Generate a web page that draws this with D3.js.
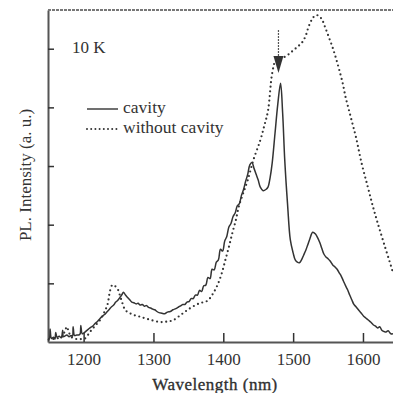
<!DOCTYPE html>
<html><head><meta charset="utf-8">
<script src="https://cdn.jsdelivr.net/npm/d3@7"></script>
<style>body{margin:0;background:#fff}svg{display:block}text{font-family:"Liberation Serif","DejaVu Serif",serif;fill:#333}</style>
</head><body>
<script>
const xTicks = [1200, 1300, 1400, 1500, 1600];
const yTicks = [1, 2, 3, 4, 5];
const seriesNames = ["cavity", "without cavity"];
const cavityWl = [1149,1151,1152,1154,1157,1159,1160,1162,1165,1168,1170,1171,1173,1176,1179,1182,1184,1185,1187,1190,1193,1195,1196,1198,1200,1204,1207,1210,1213,1216,1219,1222,1225,1228,1231,1234,1237,1240,1243,1246,1249,1252,1255,1257,1260,1263,1266,1269,1272,1275,1278,1281,1284,1287,1290,1293,1296,1299,1302,1305,1308,1312,1316,1320,1324,1328,1332,1335,1338,1342,1345,1348,1351,1354,1357,1360,1363,1366,1369,1372,1375,1378,1381,1384,1387,1390,1393,1396,1399,1402,1405,1408,1411,1414,1417,1420,1423,1426,1429,1432,1435,1438,1441,1444,1447,1450,1453,1457,1461,1464,1467,1470,1474,1478,1482,1485,1488,1492,1496,1500,1503,1506,1509,1512,1515,1518,1521,1524,1528,1532,1535,1538,1541,1544,1547,1550,1553,1557,1560,1563,1566,1569,1572,1575,1578,1581,1584,1587,1590,1594,1597,1601,1604,1608,1611,1615,1618,1621,1624,1627,1630,1633,1636,1640,1643];
const cavityVal = [0.05,0.06,0.22,0.06,0.08,0.05,0.16,0.08,0.10,0.07,0.20,0.09,0.10,0.12,0.09,0.11,0.10,0.26,0.11,0.12,0.12,0.14,0.28,0.14,0.15,0.19,0.22,0.25,0.27,0.31,0.34,0.38,0.42,0.45,0.48,0.52,0.56,0.60,0.63,0.68,0.71,0.76,0.81,0.85,0.80,0.76,0.72,0.68,0.67,0.65,0.66,0.63,0.64,0.61,0.62,0.59,0.58,0.56,0.55,0.52,0.50,0.49,0.48,0.51,0.52,0.55,0.57,0.59,0.61,0.64,0.64,0.68,0.69,0.74,0.74,0.80,0.80,0.88,0.86,0.96,0.97,1.10,1.08,1.24,1.23,1.36,1.40,1.58,1.55,1.72,1.80,1.96,2.02,2.14,2.20,2.32,2.36,2.50,2.60,2.74,2.86,3.02,3.06,2.96,2.86,2.76,2.64,2.58,2.60,2.64,2.80,3.05,3.55,4.05,4.41,3.90,3.10,2.35,1.74,1.52,1.40,1.36,1.35,1.40,1.48,1.56,1.66,1.76,1.87,1.84,1.78,1.70,1.60,1.50,1.45,1.42,1.38,1.31,1.28,1.24,1.18,1.12,1.04,0.96,0.89,0.80,0.72,0.64,0.60,0.54,0.50,0.44,0.41,0.37,0.34,0.29,0.27,0.24,0.26,0.20,0.18,0.17,0.19,0.14,0.14];
const noCavWl = [1150,1160,1168,1173,1176,1179,1183,1190,1196,1202,1209,1216,1224,1230,1234,1238,1241,1244,1248,1254,1260,1270,1281,1295,1310,1320,1328,1340,1353,1366,1377,1385,1392,1398,1403,1408,1413,1418,1422,1428,1435,1443,1453,1459,1464,1470,1475,1480,1486,1493,1500,1507,1513,1518,1522,1527,1532,1537,1542,1546,1551,1556,1561,1566,1571,1575,1580,1585,1590,1598,1607,1614,1621,1630,1640,1643];
const noCavVal = [0.04,0.06,0.08,0.18,0.26,0.16,0.08,0.05,0.05,0.06,0.17,0.27,0.38,0.52,0.63,0.88,0.97,0.96,0.92,0.72,0.54,0.47,0.43,0.38,0.34,0.35,0.37,0.47,0.58,0.66,0.70,0.82,0.98,1.18,1.40,1.62,1.86,2.08,2.30,2.52,2.76,3.10,3.44,3.70,3.94,4.58,4.80,4.83,4.85,4.90,4.97,5.04,5.11,5.22,5.37,5.50,5.57,5.56,5.48,5.36,5.20,5.04,4.85,4.64,4.41,4.18,3.95,3.72,3.49,3.05,2.64,2.32,2.03,1.68,1.30,1.18];
const arrowWl = 1479;
const labels = {x: "Wavelength (nm)", y: "PL. Intensity (a. u.)", temp: "10 K"};

const W = 393, H = 393;
const m = {l: 48, t: 10, r: 0, b: 51};
const svg = d3.select("body").append("svg").attr("width", W).attr("height", H);
const x = d3.scaleLinear().domain([1149, 1643]).range([m.l, W - m.r]);
const y = d3.scaleLinear().domain([0, 5.66]).range([H - m.b, m.t]);
const ink = "#333";

// frame
const xAxis = svg.append("g").attr("transform", `translate(0,${H - m.b})`)
  .call(d3.axisBottom(x).tickValues(xTicks).tickSizeInner(-9).tickSizeOuter(0).tickPadding(18).tickFormat(d3.format("d")));
xAxis.select(".domain").attr("stroke", "#555").attr("stroke-width", 2);
xAxis.selectAll(".tick line").attr("stroke", ink).attr("stroke-width", 1.5);
xAxis.selectAll(".tick text").attr("font-size", 17).attr("fill", ink).attr("dy", "0.3em");

const yAxis = svg.append("g").attr("transform", `translate(${m.l},0)`)
  .call(d3.axisLeft(y).tickValues(yTicks).tickSizeInner(-6).tickSizeOuter(0).tickFormat(""));
yAxis.select(".domain").attr("stroke", "#555").attr("stroke-width", 2);
yAxis.selectAll(".tick line").attr("stroke", ink).attr("stroke-width", 1.5);

svg.append("line").attr("x1", m.l).attr("x2", W).attr("y1", m.t).attr("y2", m.t)
  .attr("stroke", "#777").attr("stroke-width", 2).attr("stroke-dasharray", "3 1");

// series
const line = d3.line().x(d => x(d[0])).y(d => y(d[1])).curve(d3.curveCatmullRom.alpha(0.5));
svg.append("path").datum(noCavWl.map((w, i) => [w, noCavVal[i]]))
  .attr("d", line).attr("fill", "none").attr("stroke", ink).attr("stroke-width", 2.2)
  .attr("stroke-linecap", "round").attr("stroke-dasharray", "0 4.6");
svg.append("path").datum(cavityWl.map((w, i) => [w, cavityVal[i]]))
  .attr("d", line).attr("fill", "none").attr("stroke", ink).attr("stroke-width", 1.5)
  .attr("stroke-linejoin", "round");

// arrow
const ax = x(arrowWl);
svg.append("line").attr("x1", ax).attr("x2", ax).attr("y1", 30).attr("y2", 62)
  .attr("stroke", "#555").attr("stroke-width", 1.2).attr("stroke-dasharray", "2 1");
svg.append("path").attr("d", `M${ax - 5},56 L${ax + 5},56 L${ax},73 Z`).attr("fill", "#333");

// texts
svg.append("text").attr("x", 72).attr("y", 53).attr("font-size", 17).text(labels.temp);
const leg = [{y: 109, dash: null}, {y: 129, dash: "0 4.2"}];
leg.forEach((l, i) => {
  svg.append("line").attr("x1", 87).attr("x2", 118).attr("y1", l.y).attr("y2", l.y)
    .attr("stroke", ink).attr("stroke-width", i ? 2 : 1.4)
    .attr("stroke-linecap", i ? "round" : "butt").attr("stroke-dasharray", l.dash);
  svg.append("text").attr("x", 123).attr("y", l.y + 4).attr("font-size", 17.5).text(seriesNames[i]);
});
svg.append("text").attr("x", 215).attr("y", 390).attr("text-anchor", "middle")
  .attr("font-size", 17).attr("letter-spacing", 0.5).attr("fill", "#222").attr("stroke", "#222").attr("stroke-width", 0.3).text(labels.x);
svg.append("text").attr("transform", "translate(31,175) rotate(-90)").attr("text-anchor", "middle")
  .attr("font-size", 17).text(labels.y);
</script>
</body></html>
